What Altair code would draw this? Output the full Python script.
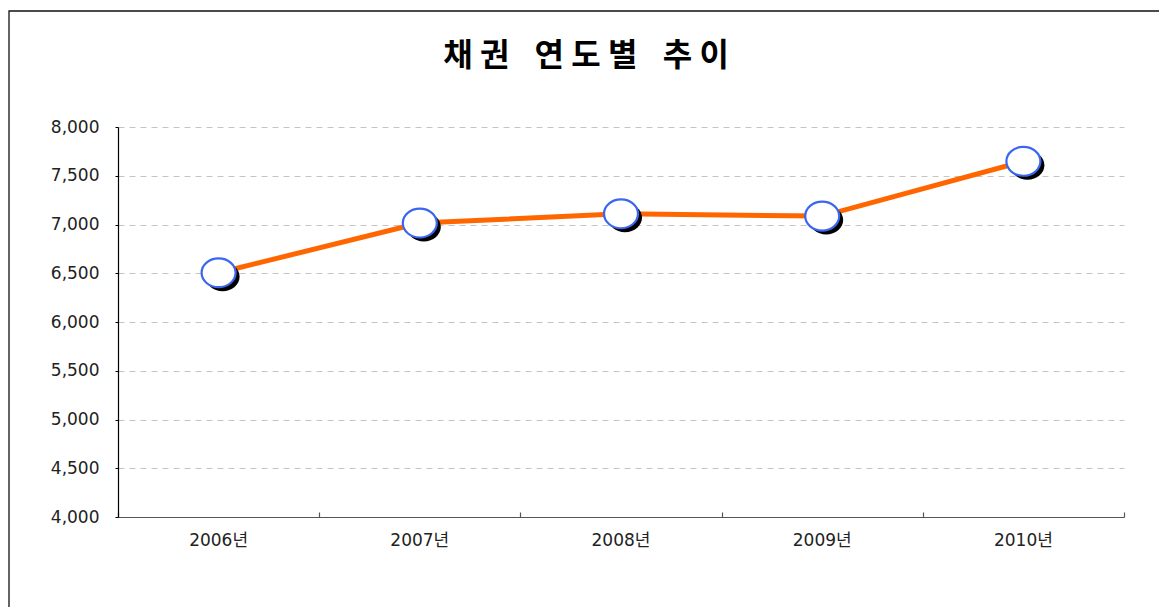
import altair as alt
import pandas as pd

years = ["2006년", "2007년", "2008년", "2009년", "2010년"]
values = [6505, 7015, 7110, 7086, 7648]
y_ticks = [4000, 4500, 5000, 5500, 6000, 6500, 7000, 7500, 8000]
title_text = "채 권 \u2002\u200a연 도 별 \u2002\u200a추 이"

df = pd.DataFrame({"year": years, "value": values})

ellipse = "M-1,0A1,0.85,0,1,1,1,0A1,0.85,0,1,1,-1,0Z"
label_font = "DejaVu Sans, Noto Sans CJK KR"

x_scale = alt.Scale(type="band", paddingInner=0, paddingOuter=0)
y_scale = alt.Scale(domain=[4000, 8000], nice=False, zero=False)

one = pd.DataFrame({"t": [title_text]})

frame = alt.Chart(one).mark_rect(
    fillOpacity=0, stroke="#111111", strokeWidth=1.3
).encode(
    x=alt.value(-109), x2=alt.value(1400), y=alt.value(-116), y2=alt.value(900)
)

title = alt.Chart(one).mark_text(
    font="Noto Sans CJK KR", fontSize=32, fontWeight="bold", color="#000000",
    align="center", baseline="middle"
).encode(
    text="t:N", x=alt.value(468), y=alt.value(-71)
)

base = alt.Chart(df)

line = base.mark_line(color="#ff6600", strokeWidth=5).encode(
    x=alt.X("year:N", sort=years, scale=x_scale,
            axis=alt.Axis(title=None, orient="bottom", labelAngle=0, ticks=False,
                          domain=True, domainColor="#555555", domainWidth=1.2,
                          labelFont=label_font, labelFontSize=17, labelColor="#222222",
                          labelPadding=15, grid=False)),
    y=alt.Y("value:Q", scale=y_scale,
            axis=alt.Axis(title=None, orient="left", values=y_ticks, format=",.0f", grid=True,
                          gridDash=[6, 5], gridColor="#c4c4c4", gridWidth=1,
                          domainColor="#000000", domainWidth=1.2,
                          tickSize=3, tickColor="#000000",
                          labelFont=label_font, labelFontSize=17, labelColor="#222222",
                          labelPadding=16)),
)

shadow = base.mark_point(shape=ellipse, size=1156, filled=True, color="#000000",
                         opacity=1, xOffset=4, yOffset=4).encode(
    x=alt.X("year:N", sort=years, scale=x_scale,
            axis=alt.Axis(title=None, orient="top", labels=False, domain=False,
                          ticks=True, tickSize=5, tickColor="#555555", tickWidth=1.2,
                          tickBand="extent", offset=-390, grid=False)),
    y=alt.Y("value:Q", scale=y_scale, axis=None),
)

markers = base.mark_point(shape=ellipse, size=1156, filled=True, fill="#ffffff",
                          stroke="#3a66f0", strokeWidth=2.2, opacity=1).encode(
    x=alt.X("year:N", sort=years, scale=x_scale, axis=None),
    y=alt.Y("value:Q", scale=y_scale, axis=None),
)

chart = alt.layer(frame, title, line, shadow, markers).resolve_axis(
    x="independent", y="independent"
).properties(
    width=1006,
    height=390,
    autosize=alt.AutoSizeParams(type="none"),
    padding={"left": 110, "top": 119, "right": 35, "bottom": 90},
    background="#ffffff",
).configure_view(stroke=None)

chart.save("out.html", embed_options={"renderer": "svg", "actions": False})
